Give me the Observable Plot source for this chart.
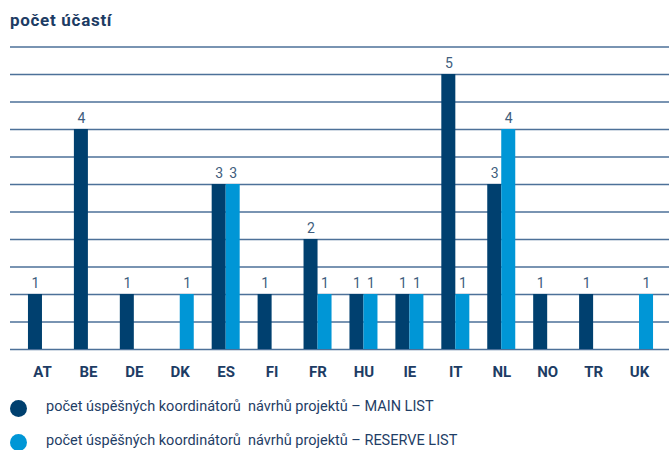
<!DOCTYPE html>
<html>
<head>
<meta charset="utf-8">
<script src="https://cdn.jsdelivr.net/npm/d3@7"></script>
<script src="https://cdn.jsdelivr.net/npm/@observablehq/plot@0.6"></script>
<style>
  body { margin: 0; background: #fff; }
  #wrap { position: relative; width: 669px; height: 450px; overflow: hidden; font-family: Roboto, "Open Sans", sans-serif; }
  .title { position: absolute; left: 10px; top: 10px; font-size: 17px; letter-spacing: 0.7px; font-weight: 700; color: #1d3c64; white-space: nowrap; }
  #chart { position: absolute; left: 0; top: 36px; }
  #chart svg { background: transparent; }
  .dot { position: absolute; left: 10px; width: 17px; height: 17px; border-radius: 50%; }
  .leg { position: absolute; left: 46px; font-size: 14.5px; color: #1f3e66; white-space: pre; }
</style>
</head>
<body>
<div id="wrap">
  <div class="title">počet účastí</div>
  <div id="chart"></div>
  <div class="dot" style="top:400px;background:#00406f"></div>
  <div class="leg" style="top:398px">počet úspěšných koordinátorů  návrhů projektů – MAIN LIST</div>
  <div class="dot" style="top:434px;background:#0096d6"></div>
  <div class="leg" style="top:432px">počet úspěšných koordinátorů  návrhů projektů – RESERVE LIST</div>
</div>
<script>
const countries = ["AT","BE","DE","DK","ES","FI","FR","HU","IE","IT","NL","NO","TR","UK"];
const mainList = [1,4,1,0,3,1,2,1,1,5,3,1,1,0];
const reserveList = [0,0,0,1,3,0,1,1,1,1,4,0,0,1];
const gridTicks = [0,0.5,1,1.5,2,2.5,3,3.5,4,4.5,5,5.5];

const darkColor = "#00406f";
const lightColor = "#0096d6";
const gridColor = "#4d7199";

const data = countries.map((c, i) => ({country: c, main: mainList[i], reserve: reserveList[i]}));
const mainData = data.filter(d => d.main > 0);
const reserveData = data.filter(d => d.reserve > 0);

const chart = Plot.plot({
  width: 669,
  height: 354,
  marginTop: 10.5,
  marginBottom: 41,
  marginLeft: 10,
  marginRight: 0,
  style: {background: "transparent", fontFamily: "Roboto, 'Open Sans', sans-serif"},
  x: {domain: countries, range: [19, 662], padding: 0, round: false, axis: null},
  y: {domain: [0, 5.5], axis: null},
  marks: [
    Plot.ruleY(gridTicks, {stroke: gridColor, strokeWidth: 1.4}),
    Plot.barY(mainData, {x: "country", y: "main", fill: darkColor, dx: -7, insetLeft: 15.96, insetRight: 15.96}),
    Plot.barY(reserveData, {x: "country", y: "reserve", fill: lightColor, dx: 7, insetLeft: 15.96, insetRight: 15.96}),
    Plot.text(mainData, {x: "country", y: "main", text: d => String(d.main), dx: -7, dy: -7, lineAnchor: "bottom", fontSize: 14, fill: "#405d7d"}),
    Plot.text(reserveData, {x: "country", y: "reserve", text: d => String(d.reserve), dx: 7, dy: -7, lineAnchor: "bottom", fontSize: 14, fill: "#405d7d"}),
    Plot.text(countries, {x: d => d, text: d => d, frameAnchor: "bottom", dy: 27, fontSize: 15, fontWeight: "bold", fill: "#1d3c64"})
  ]
});
document.getElementById("chart").appendChild(chart);
</script>
</body>
</html>
